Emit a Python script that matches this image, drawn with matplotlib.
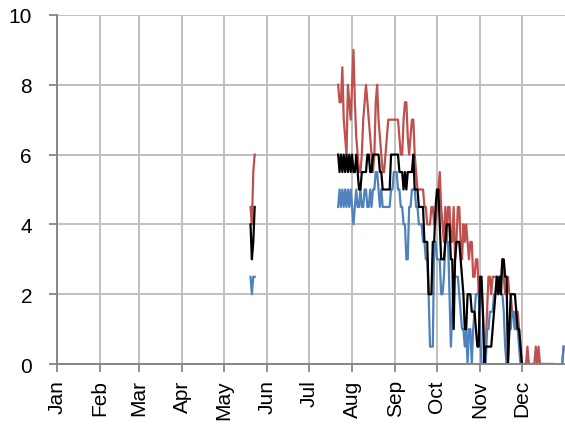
import numpy as np
import matplotlib
matplotlib.use("Agg")
import matplotlib.pyplot as plt

plt.rcParams['font.family'] = ['Liberation Sans', 'DejaVu Sans']

months = ["Jan", "Feb", "Mar", "Apr", "May", "Jun",
          "Jul", "Aug", "Sep", "Oct", "Nov", "Dec"]
month_starts = [0, 31, 59, 90, 120, 151, 181, 212, 243, 273, 304, 334]

# short run in late May (day of year 139..142)
may_start = 139
may_red = [4.5, 4.0, 5.5, 6.0]
may_black = [4.0, 3.0, 3.5, 4.5]
may_blue = [2.5, 2.0, 2.5, 2.5]

# main run, day of year 202..356
main_start = 202
main_red = [8.0, 7.5, 7.5, 8.5, 7.0, 6.5, 6.0, 8.0, 7.5, 7.0,
            8.0, 9.0, 7.5, 6.5, 6.0, 5.5, 5.5, 6.0, 7.0, 7.5,
            8.0, 7.5, 7.0, 6.5, 6.0, 5.5, 6.0, 7.5, 8.0, 7.0,
            6.5, 6.0, 5.5, 5.5, 6.0, 6.5, 7.0, 7.0, 7.0, 7.0,
            7.0, 7.0, 7.0, 7.0, 6.5, 6.0, 6.0, 7.0, 7.5, 7.5,
            6.5, 6.0, 6.5, 7.0, 7.0, 6.0, 5.5, 5.0, 5.0, 5.0,
            5.0, 5.0, 4.5, 4.5, 4.0, 4.0, 4.0, 4.5, 4.5, 4.0,
            4.0, 4.5, 5.0, 5.5, 4.5, 4.0, 3.5, 4.5, 3.5, 4.5,
            4.5, 3.5, 3.5, 4.5, 3.0, 3.5, 4.5, 4.5, 3.5, 3.0,
            4.0, 3.5, 4.0, 3.5, 3.0, 3.5, 3.5, 2.5, 2.5, 3.0,
            3.0, 2.0, 2.5, 2.0, 1.5, 0.5, 0.5, 1.5, 2.5, 2.5,
            2.0, 2.5, 2.5, 2.5, 2.5, 2.0, 2.5, 2.5, 3.0, 2.5,
            2.0, 2.0, 2.5, 2.0, 2.0, 1.5, 1.5, 1.0, 1.0, 1.5,
            1.0, 0.5, 0.0, 0.0, 0.0, 0.0, 0.5, 0.0, 0.0, 0.0,
            0.0, 0.0, 0.5, 0.0, 0.5, 0.0, 0.0, 0.0, 0.0, 0.0,
            0.0, 0.0, 0.0, 0.0, 0.0]
main_black = [6.0, 5.5, 6.0, 5.5, 6.0, 5.5, 6.0, 5.5, 6.0, 5.5,
              6.0, 5.5, 5.5, 6.0, 5.5, 5.0, 5.0, 5.5, 5.5, 5.5,
              5.5, 6.0, 6.0, 5.5, 5.5, 6.0, 6.0, 6.0, 6.0, 6.0,
              5.5, 5.5, 5.0, 5.0, 5.0, 5.0, 5.0, 5.0, 6.0, 6.0,
              6.0, 6.0, 6.0, 6.0, 5.5, 5.5, 5.5, 5.0, 5.5, 5.0,
              5.5, 5.5, 5.5, 5.5, 6.0, 5.0, 5.0, 5.0, 4.5, 4.5,
              4.5, 4.5, 3.5, 3.5, 3.5, 2.0, 2.0, 2.0, 3.5, 3.5,
              4.5, 5.0, 5.0, 4.0, 3.0, 3.0, 3.0, 3.5, 4.0, 4.0,
              4.0, 3.0, 3.0, 1.0, 3.0, 3.5, 3.5, 3.5, 3.0, 2.5,
              2.0, 1.0, 1.0, 2.0, 2.0, 2.0, 1.5, 1.5, 1.5, 1.0,
              0.5, 0.5, 2.5, 2.5, 1.5, 0.0, 0.5, 0.5, 0.5, 0.5,
              0.5, 1.0, 1.5, 2.0, 2.5, 2.0, 2.5, 2.0, 3.0, 3.0,
              2.5, 2.5, 0.0, 1.0, 2.0, 2.0, 2.0, 2.0, 1.5, 1.0,
              1.0, 0.5, 0.0, 0.0, 0.0, 0.0, 0.0, 0.0, 0.0, 0.0,
              0.0, 0.0, 0.0, 0.0, 0.0, 0.0, 0.0, 0.0, 0.0, 0.0,
              0.0, 0.0, 0.0, 0.0, 0.0]
main_blue = [4.5, 5.0, 4.5, 5.0, 4.5, 5.0, 4.5, 5.0, 4.5, 5.0,
             4.5, 4.0, 4.5, 5.0, 4.5, 4.5, 5.0, 4.5, 4.5, 5.0,
             5.0, 4.5, 4.5, 5.0, 4.5, 5.0, 5.0, 5.5, 5.5, 5.0,
             4.5, 5.0, 4.5, 4.5, 4.5, 4.5, 4.5, 4.5, 5.0, 5.0,
             5.5, 5.5, 5.5, 5.0, 5.0, 4.5, 4.5, 4.0, 4.0, 3.0,
             3.0, 4.5, 4.5, 5.0, 5.0, 5.0, 4.5, 4.5, 4.0, 4.0,
             4.0, 3.5, 3.5, 3.0, 3.0, 2.0, 0.5, 0.5, 0.5, 3.5,
             3.5, 3.0, 3.0, 3.0, 2.0, 2.0, 2.5, 3.5, 3.5, 3.5,
             2.0, 0.5, 1.5, 2.5, 2.5, 2.5, 2.5, 2.0, 1.5, 1.0,
             1.0, 0.5, 1.0, 0.0, 1.0, 1.0, 0.0, 1.0, 1.5, 2.0,
             2.0, 2.0, 1.0, 0.0, 0.0, 0.0, 0.0, 1.0, 1.0, 1.5,
             1.5, 1.5, 2.0, 2.0, 2.5, 2.5, 2.5, 2.0, 2.0, 1.5,
             0.5, 0.0, 0.0, 1.0, 1.0, 1.5, 1.5, 1.0, 1.5, 1.0,
             0.5, 0.0, 0.0, 0.0, 0.0, 0.0, 0.0, 0.0, 0.0, 0.0,
             0.0, 0.0, 0.0, 0.0, 0.0, 0.0, 0.0, 0.0, 0.0, 0.0,
             0.0, 0.0, 0.0, 0.0, 0.0]

# last two days of the year
end_start = 363
end_red = [0.0, 0.5]
end_blue = [0.0, 0.5]


def full_year(*runs):
    y = np.full(365, np.nan)
    for start, vals in runs:
        y[start:start + len(vals)] = vals
    return y


days = np.arange(365)
red = full_year((may_start, may_red), (main_start, main_red), (end_start, end_red))
blue = full_year((may_start, may_blue), (main_start, main_blue), (end_start, end_blue))
black = full_year((may_start, may_black), (main_start, main_black))

fig = plt.figure(figsize=(5.65, 4.31), dpi=100)
ax = fig.add_axes([0.101, 0.153, 0.899, 0.81])

ax.plot(days, red, color='#C0504D', lw=1.6)
ax.plot(days, blue, color='#4F81BD', lw=1.6)
ax.plot(days, black, color='black', lw=1.6)

ax.set_xlim(0, 365)
ax.set_ylim(0, 10)
ax.set_yticks([0, 2, 4, 6, 8, 10])
ax.set_xticks(month_starts)
ax.set_xticklabels(months, rotation=90)
ax.grid(True, color='#c0c0c0', lw=1.4)
ax.set_axisbelow(True)

for s in ['top', 'right']:
    ax.spines[s].set_visible(False)
for s in ['left', 'bottom']:
    ax.spines[s].set_color('#868686')
    ax.spines[s].set_linewidth(1.4)

ax.tick_params(axis='both', colors='#868686', labelcolor='black',
               labelsize=15, length=6, width=1.3)
ax.tick_params(axis='y', pad=12)
ax.tick_params(axis='x', pad=5)

fig.savefig('out.png', dpi=100)
